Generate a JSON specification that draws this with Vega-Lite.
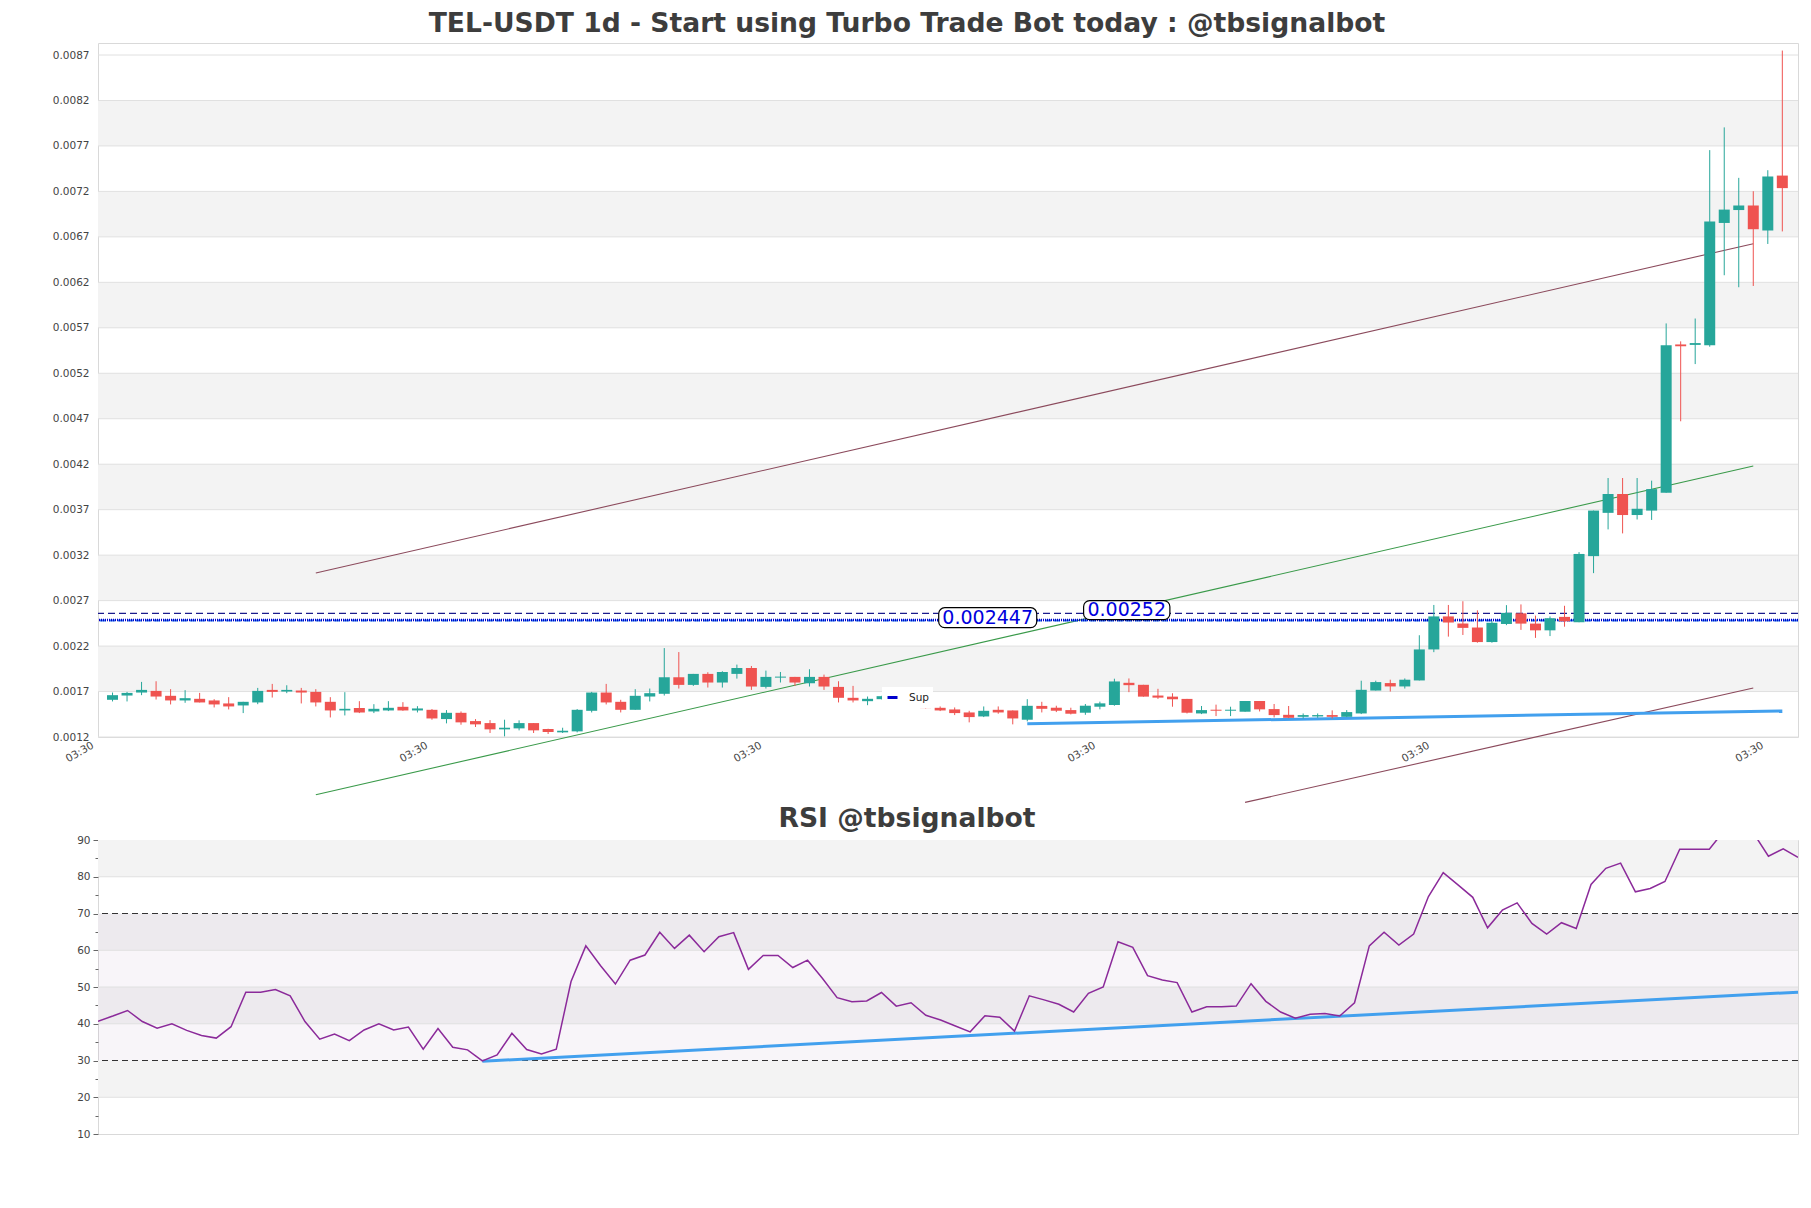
{
"$schema": "https://vega.github.io/schema/vega-lite/v6.json",
"background": "white",
"padding": {"left": 51, "top": 10, "right": 10, "bottom": 10},
"bounds": "flush",
"spacing": 103,
"config": {
  "view": {"stroke": "#d9d9d9", "strokeWidth": 1},
  "axis": {"labelFont": "DejaVu Sans", "labelFontSize": 10.5, "labelColor": "#444444", "domain": false, "grid": false, "title": null, "labelOverlap": false, "labelFlush": false},
  "title": {"font": "DejaVu Sans", "fontWeight": "bold", "color": "#3d3d3d"}
},
"datasets": {
  "candles": [
    {"t":"2024-05-01T03:30","o":0.001569,"h":0.001649,"l":0.001551,"c":0.00162},
    {"t":"2024-05-02T03:30","o":0.001616,"h":0.001656,"l":0.001551,"c":0.001645},
    {"t":"2024-05-03T03:30","o":0.001649,"h":0.001766,"l":0.00162,"c":0.001678},
    {"t":"2024-05-04T03:30","o":0.001667,"h":0.001773,"l":0.001572,"c":0.001605},
    {"t":"2024-05-05T03:30","o":0.001613,"h":0.001686,"l":0.001518,"c":0.001562},
    {"t":"2024-05-06T03:30","o":0.001562,"h":0.001675,"l":0.001536,"c":0.001587},
    {"t":"2024-05-07T03:30","o":0.00158,"h":0.001645,"l":0.00154,"c":0.00154},
    {"t":"2024-05-08T03:30","o":0.001562,"h":0.001576,"l":0.001485,"c":0.001518},
    {"t":"2024-05-09T03:30","o":0.001529,"h":0.001598,"l":0.001463,"c":0.001496},
    {"t":"2024-05-10T03:30","o":0.001507,"h":0.001547,"l":0.001423,"c":0.001547},
    {"t":"2024-05-11T03:30","o":0.00154,"h":0.0017,"l":0.001521,"c":0.001667},
    {"t":"2024-05-12T03:30","o":0.001678,"h":0.001744,"l":0.001594,"c":0.001656},
    {"t":"2024-05-13T03:30","o":0.00166,"h":0.001729,"l":0.001642,"c":0.001678},
    {"t":"2024-05-14T03:30","o":0.001671,"h":0.0017,"l":0.001529,"c":0.001649},
    {"t":"2024-05-15T03:30","o":0.001656,"h":0.001686,"l":0.001496,"c":0.00154},
    {"t":"2024-05-16T03:30","o":0.001547,"h":0.001598,"l":0.001375,"c":0.001452},
    {"t":"2024-05-17T03:30","o":0.001452,"h":0.001653,"l":0.001397,"c":0.00147},
    {"t":"2024-05-18T03:30","o":0.001478,"h":0.001554,"l":0.001423,"c":0.00143},
    {"t":"2024-05-19T03:30","o":0.001441,"h":0.001521,"l":0.001423,"c":0.00147},
    {"t":"2024-05-20T03:30","o":0.001452,"h":0.001554,"l":0.001445,"c":0.001481},
    {"t":"2024-05-21T03:30","o":0.001492,"h":0.001543,"l":0.001448,"c":0.001452},
    {"t":"2024-05-22T03:30","o":0.001452,"h":0.001499,"l":0.00143,"c":0.001474},
    {"t":"2024-05-23T03:30","o":0.001459,"h":0.001467,"l":0.00135,"c":0.001364},
    {"t":"2024-05-24T03:30","o":0.001357,"h":0.001456,"l":0.00131,"c":0.001426},
    {"t":"2024-05-25T03:30","o":0.001426,"h":0.001441,"l":0.001295,"c":0.001321},
    {"t":"2024-05-26T03:30","o":0.001335,"h":0.001357,"l":0.00127,"c":0.001299},
    {"t":"2024-05-27T03:30","o":0.001313,"h":0.001346,"l":0.001204,"c":0.001244},
    {"t":"2024-05-28T03:30","o":0.001244,"h":0.00135,"l":0.001167,"c":0.001262},
    {"t":"2024-05-29T03:30","o":0.001255,"h":0.001343,"l":0.001233,"c":0.001313},
    {"t":"2024-05-30T03:30","o":0.001313,"h":0.001313,"l":0.001204,"c":0.001233},
    {"t":"2024-05-31T03:30","o":0.001248,"h":0.001251,"l":0.001193,"c":0.001215},
    {"t":"2024-06-01T03:30","o":0.001211,"h":0.001262,"l":0.001204,"c":0.001229},
    {"t":"2024-06-02T03:30","o":0.001222,"h":0.001467,"l":0.001211,"c":0.001459},
    {"t":"2024-06-03T03:30","o":0.001448,"h":0.001656,"l":0.00143,"c":0.001649},
    {"t":"2024-06-04T03:30","o":0.001649,"h":0.001744,"l":0.001518,"c":0.00154},
    {"t":"2024-06-05T03:30","o":0.001547,"h":0.001569,"l":0.00143,"c":0.001459},
    {"t":"2024-06-06T03:30","o":0.001459,"h":0.001686,"l":0.001459,"c":0.001613},
    {"t":"2024-06-07T03:30","o":0.001605,"h":0.001693,"l":0.001551,"c":0.001642},
    {"t":"2024-06-08T03:30","o":0.001635,"h":0.002138,"l":0.001616,"c":0.001817},
    {"t":"2024-06-09T03:30","o":0.001817,"h":0.002094,"l":0.001693,"c":0.001733},
    {"t":"2024-06-10T03:30","o":0.001733,"h":0.001854,"l":0.001722,"c":0.001854},
    {"t":"2024-06-11T03:30","o":0.001854,"h":0.001872,"l":0.001704,"c":0.001759},
    {"t":"2024-06-12T03:30","o":0.001759,"h":0.001883,"l":0.001704,"c":0.001875},
    {"t":"2024-06-13T03:30","o":0.001854,"h":0.001956,"l":0.001802,"c":0.001919},
    {"t":"2024-06-14T03:30","o":0.001919,"h":0.001941,"l":0.001678,"c":0.001715},
    {"t":"2024-06-15T03:30","o":0.001711,"h":0.00189,"l":0.001693,"c":0.001821},
    {"t":"2024-06-16T03:30","o":0.001813,"h":0.001875,"l":0.001759,"c":0.001824},
    {"t":"2024-06-17T03:30","o":0.001821,"h":0.001821,"l":0.001722,"c":0.001759},
    {"t":"2024-06-18T03:30","o":0.001751,"h":0.001905,"l":0.001715,"c":0.001821},
    {"t":"2024-06-19T03:30","o":0.001821,"h":0.001846,"l":0.001678,"c":0.001715},
    {"t":"2024-06-20T03:30","o":0.001711,"h":0.001773,"l":0.00154,"c":0.001591},
    {"t":"2024-06-21T03:30","o":0.001591,"h":0.001722,"l":0.00154,"c":0.001562},
    {"t":"2024-06-22T03:30","o":0.001554,"h":0.001605,"l":0.00151,"c":0.00158},
    {"t":"2024-06-23T03:30","o":0.001576,"h":0.001615,"l":0.00157,"c":0.001609},
    {"t":"2024-06-24T03:30","o":0.001609,"h":0.00162,"l":0.001525,"c":0.00154},
    {"t":"2024-06-25T03:30","o":0.00154,"h":0.00158,"l":0.001525,"c":0.001555},
    {"t":"2024-06-26T03:30","o":0.001492,"h":0.001495,"l":0.001475,"c":0.001478},
    {"t":"2024-06-27T03:30","o":0.001481,"h":0.001496,"l":0.001445,"c":0.001452},
    {"t":"2024-06-28T03:30","o":0.001463,"h":0.001485,"l":0.001401,"c":0.001423},
    {"t":"2024-06-29T03:30","o":0.00143,"h":0.001448,"l":0.001321,"c":0.001379},
    {"t":"2024-06-30T03:30","o":0.001386,"h":0.001496,"l":0.001379,"c":0.001448},
    {"t":"2024-07-01T03:30","o":0.001459,"h":0.001496,"l":0.001416,"c":0.00143},
    {"t":"2024-07-02T03:30","o":0.001452,"h":0.001452,"l":0.001299,"c":0.001364},
    {"t":"2024-07-03T03:30","o":0.00135,"h":0.001576,"l":0.001332,"c":0.001503},
    {"t":"2024-07-04T03:30","o":0.001502,"h":0.001547,"l":0.00143,"c":0.00147},
    {"t":"2024-07-05T03:30","o":0.001482,"h":0.001504,"l":0.001434,"c":0.001449},
    {"t":"2024-07-06T03:30","o":0.001456,"h":0.001482,"l":0.001408,"c":0.001416},
    {"t":"2024-07-07T03:30","o":0.001427,"h":0.001523,"l":0.001404,"c":0.001504},
    {"t":"2024-07-08T03:30","o":0.001493,"h":0.001549,"l":0.001464,"c":0.00153},
    {"t":"2024-07-09T03:30","o":0.001512,"h":0.001801,"l":0.001504,"c":0.001771},
    {"t":"2024-07-10T03:30","o":0.001756,"h":0.001804,"l":0.001653,"c":0.00173},
    {"t":"2024-07-11T03:30","o":0.001734,"h":0.001734,"l":0.001604,"c":0.001604},
    {"t":"2024-07-12T03:30","o":0.001616,"h":0.00169,"l":0.001579,"c":0.001593},
    {"t":"2024-07-13T03:30","o":0.001604,"h":0.001641,"l":0.001493,"c":0.001575},
    {"t":"2024-07-14T03:30","o":0.001579,"h":0.001579,"l":0.001419,"c":0.001427},
    {"t":"2024-07-15T03:30","o":0.001419,"h":0.001501,"l":0.001412,"c":0.001456},
    {"t":"2024-07-16T03:30","o":0.00146,"h":0.001516,"l":0.00139,"c":0.001449},
    {"t":"2024-07-17T03:30","o":0.001449,"h":0.001493,"l":0.00139,"c":0.00146},
    {"t":"2024-07-18T03:30","o":0.001438,"h":0.001556,"l":0.001438,"c":0.001556},
    {"t":"2024-07-19T03:30","o":0.001556,"h":0.001556,"l":0.001441,"c":0.001464},
    {"t":"2024-07-20T03:30","o":0.001467,"h":0.001523,"l":0.001375,"c":0.001401},
    {"t":"2024-07-21T03:30","o":0.001404,"h":0.001501,"l":0.001367,"c":0.001371},
    {"t":"2024-07-22T03:30","o":0.001382,"h":0.001419,"l":0.001364,"c":0.001401},
    {"t":"2024-07-23T03:30","o":0.001386,"h":0.001419,"l":0.001371,"c":0.001401},
    {"t":"2024-07-24T03:30","o":0.001401,"h":0.001453,"l":0.001364,"c":0.001382},
    {"t":"2024-07-25T03:30","o":0.001382,"h":0.001456,"l":0.001379,"c":0.001434},
    {"t":"2024-07-26T03:30","o":0.001419,"h":0.001779,"l":0.001412,"c":0.001679},
    {"t":"2024-07-27T03:30","o":0.001671,"h":0.001779,"l":0.001671,"c":0.001764},
    {"t":"2024-07-28T03:30","o":0.001753,"h":0.00179,"l":0.00166,"c":0.001716},
    {"t":"2024-07-29T03:30","o":0.001716,"h":0.001804,"l":0.001693,"c":0.00179},
    {"t":"2024-07-30T03:30","o":0.001782,"h":0.002279,"l":0.001782,"c":0.002123},
    {"t":"2024-07-31T03:30","o":0.002123,"h":0.002612,"l":0.002093,"c":0.002486},
    {"t":"2024-08-01T03:30","o":0.002486,"h":0.002612,"l":0.002264,"c":0.002419},
    {"t":"2024-08-02T03:30","o":0.002408,"h":0.002653,"l":0.002282,"c":0.00236},
    {"t":"2024-08-03T03:30","o":0.002364,"h":0.002553,"l":0.002197,"c":0.002204},
    {"t":"2024-08-04T03:30","o":0.002204,"h":0.002438,"l":0.002197,"c":0.002416},
    {"t":"2024-08-05T03:30","o":0.002403,"h":0.00261,"l":0.00239,"c":0.002525},
    {"t":"2024-08-06T03:30","o":0.00252,"h":0.002618,"l":0.002338,"c":0.002407},
    {"t":"2024-08-07T03:30","o":0.002407,"h":0.002495,"l":0.00225,"c":0.002333},
    {"t":"2024-08-08T03:30","o":0.002333,"h":0.002486,"l":0.00227,"c":0.002466},
    {"t":"2024-08-09T03:30","o":0.002481,"h":0.002603,"l":0.002373,"c":0.002432},
    {"t":"2024-08-10T03:30","o":0.002422,"h":0.003193,"l":0.002422,"c":0.003173},
    {"t":"2024-08-11T03:30","o":0.003149,"h":0.00365,"l":0.002962,"c":0.00365},
    {"t":"2024-08-12T03:30","o":0.003625,"h":0.004008,"l":0.003443,"c":0.003832},
    {"t":"2024-08-13T03:30","o":0.003832,"h":0.004008,"l":0.003399,"c":0.003601},
    {"t":"2024-08-14T03:30","o":0.003601,"h":0.004008,"l":0.003552,"c":0.00367},
    {"t":"2024-08-15T03:30","o":0.00365,"h":0.003979,"l":0.003547,"c":0.003886},
    {"t":"2024-08-16T03:30","o":0.003846,"h":0.005708,"l":0.003846,"c":0.005467},
    {"t":"2024-08-17T03:30","o":0.005477,"h":0.005511,"l":0.004632,"c":0.005457},
    {"t":"2024-08-18T03:30","o":0.005472,"h":0.005762,"l":0.005261,"c":0.005492},
    {"t":"2024-08-19T03:30","o":0.005467,"h":0.007614,"l":0.005452,"c":0.006828},
    {"t":"2024-08-20T03:30","o":0.006813,"h":0.007864,"l":0.006238,"c":0.00696},
    {"t":"2024-08-21T03:30","o":0.006955,"h":0.007309,"l":0.006106,"c":0.007005},
    {"t":"2024-08-22T03:30","o":0.007005,"h":0.007162,"l":0.00612,"c":0.006744},
    {"t":"2024-08-23T03:30","o":0.00673,"h":0.007393,"l":0.006582,"c":0.007324},
    {"t":"2024-08-24T03:30","o":0.007334,"h":0.008709,"l":0.00672,"c":0.007196}
  ],
  "rsi": [
    {"t":"2024-05-01T03:30","r":40.7},{"t":"2024-05-02T03:30","r":42.1},{"t":"2024-05-03T03:30","r":43.6},{"t":"2024-05-04T03:30","r":40.6},
    {"t":"2024-05-05T03:30","r":38.8},{"t":"2024-05-06T03:30","r":40.0},{"t":"2024-05-07T03:30","r":38.2},{"t":"2024-05-08T03:30","r":36.8},
    {"t":"2024-05-09T03:30","r":36.1},{"t":"2024-05-10T03:30","r":39.2},{"t":"2024-05-11T03:30","r":48.6},{"t":"2024-05-12T03:30","r":48.6},
    {"t":"2024-05-13T03:30","r":49.3},{"t":"2024-05-14T03:30","r":47.6},{"t":"2024-05-15T03:30","r":40.6},{"t":"2024-05-16T03:30","r":35.8},
    {"t":"2024-05-17T03:30","r":37.2},{"t":"2024-05-18T03:30","r":35.4},{"t":"2024-05-19T03:30","r":38.3},{"t":"2024-05-20T03:30","r":40.0},
    {"t":"2024-05-21T03:30","r":38.3},{"t":"2024-05-22T03:30","r":39.1},{"t":"2024-05-23T03:30","r":33.1},{"t":"2024-05-24T03:30","r":38.7},
    {"t":"2024-05-25T03:30","r":33.6},{"t":"2024-05-26T03:30","r":32.9},{"t":"2024-05-27T03:30","r":29.9},{"t":"2024-05-28T03:30","r":31.5},
    {"t":"2024-05-29T03:30","r":37.4},{"t":"2024-05-30T03:30","r":33.0},{"t":"2024-05-31T03:30","r":31.8},{"t":"2024-06-01T03:30","r":33.1},
    {"t":"2024-06-02T03:30","r":51.5},{"t":"2024-06-03T03:30","r":61.2},{"t":"2024-06-04T03:30","r":55.8},{"t":"2024-06-05T03:30","r":50.8},
    {"t":"2024-06-06T03:30","r":57.3},{"t":"2024-06-07T03:30","r":58.7},{"t":"2024-06-08T03:30","r":64.9},{"t":"2024-06-09T03:30","r":60.5},
    {"t":"2024-06-10T03:30","r":64.1},{"t":"2024-06-11T03:30","r":59.6},{"t":"2024-06-12T03:30","r":63.7},{"t":"2024-06-13T03:30","r":64.8},
    {"t":"2024-06-14T03:30","r":54.8},{"t":"2024-06-15T03:30","r":58.6},{"t":"2024-06-16T03:30","r":58.6},{"t":"2024-06-17T03:30","r":55.3},
    {"t":"2024-06-18T03:30","r":57.3},{"t":"2024-06-19T03:30","r":52.4},{"t":"2024-06-20T03:30","r":47.1},{"t":"2024-06-21T03:30","r":46.0},
    {"t":"2024-06-22T03:30","r":46.2},{"t":"2024-06-23T03:30","r":48.5},{"t":"2024-06-24T03:30","r":44.8},{"t":"2024-06-25T03:30","r":45.7},
    {"t":"2024-06-26T03:30","r":42.3},{"t":"2024-06-27T03:30","r":41.0},{"t":"2024-06-28T03:30","r":39.4},{"t":"2024-06-29T03:30","r":37.8},
    {"t":"2024-06-30T03:30","r":42.2},{"t":"2024-07-01T03:30","r":41.8},{"t":"2024-07-02T03:30","r":38.0},{"t":"2024-07-03T03:30","r":47.6},
    {"t":"2024-07-04T03:30","r":46.5},{"t":"2024-07-05T03:30","r":45.3},{"t":"2024-07-06T03:30","r":43.2},{"t":"2024-07-07T03:30","r":48.3},
    {"t":"2024-07-08T03:30","r":50.0},{"t":"2024-07-09T03:30","r":62.3},{"t":"2024-07-10T03:30","r":60.8},{"t":"2024-07-11T03:30","r":53.1},
    {"t":"2024-07-12T03:30","r":51.9},{"t":"2024-07-13T03:30","r":51.2},{"t":"2024-07-14T03:30","r":43.2},{"t":"2024-07-15T03:30","r":44.6},
    {"t":"2024-07-16T03:30","r":44.6},{"t":"2024-07-17T03:30","r":44.8},{"t":"2024-07-18T03:30","r":50.9},{"t":"2024-07-19T03:30","r":46.1},
    {"t":"2024-07-20T03:30","r":43.2},{"t":"2024-07-21T03:30","r":41.5},{"t":"2024-07-22T03:30","r":42.6},{"t":"2024-07-23T03:30","r":42.8},
    {"t":"2024-07-24T03:30","r":42.1},{"t":"2024-07-25T03:30","r":45.7},{"t":"2024-07-26T03:30","r":61.2},{"t":"2024-07-27T03:30","r":64.9},
    {"t":"2024-07-28T03:30","r":61.4},{"t":"2024-07-29T03:30","r":64.4},{"t":"2024-07-30T03:30","r":74.6},{"t":"2024-07-31T03:30","r":81.1},
    {"t":"2024-08-01T03:30","r":77.8},{"t":"2024-08-02T03:30","r":74.4},{"t":"2024-08-03T03:30","r":66.1},{"t":"2024-08-04T03:30","r":70.9},
    {"t":"2024-08-05T03:30","r":72.9},{"t":"2024-08-06T03:30","r":67.3},{"t":"2024-08-07T03:30","r":64.4},{"t":"2024-08-08T03:30","r":67.5},
    {"t":"2024-08-09T03:30","r":65.9},{"t":"2024-08-10T03:30","r":77.9},{"t":"2024-08-11T03:30","r":82.3},{"t":"2024-08-12T03:30","r":83.7},
    {"t":"2024-08-13T03:30","r":75.9},{"t":"2024-08-14T03:30","r":76.8},{"t":"2024-08-15T03:30","r":78.7},{"t":"2024-08-16T03:30","r":87.5},
    {"t":"2024-08-17T03:30","r":87.5},{"t":"2024-08-18T03:30","r":87.5},{"t":"2024-08-19T03:30","r":92.5},{"t":"2024-08-20T03:30","r":93.5},
    {"t":"2024-08-21T03:30","r":91.8},{"t":"2024-08-22T03:30","r":85.6},{"t":"2024-08-23T03:30","r":87.6},{"t":"2024-08-24T03:30","r":85.3}
  ],
  "trend": [
    {"n":"a","t":"2024-05-15T03:30","v":0.002964},{"n":"a","t":"2024-08-22T03:30","v":0.006585},
    {"n":"b","t":"2024-05-15T03:30","v":0.000525},{"n":"b","t":"2024-08-22T03:30","v":0.00414},
    {"n":"c","t":"2024-07-18T03:30","v":0.000441},{"n":"c","t":"2024-08-22T03:30","v":0.001699}
  ],
  "support": [{"t":"2024-07-03T03:30","v":0.001306},{"t":"2024-08-24T03:30","v":0.001446}],
  "rsitrend": [{"t":"2024-05-27T03:30","r":29.8},{"t":"2024-08-24T03:30","r":48.6}],
  "bands": [{"a":0.00166,"b":0.00216},{"a":0.00266,"b":0.00316},{"a":0.00366,"b":0.00416},{"a":0.00466,"b":0.00516},{"a":0.00566,"b":0.00616},{"a":0.00666,"b":0.00716},{"a":0.00766,"b":0.00816}],
  "grid": [{"v":0.00116},{"v":0.00166},{"v":0.00216},{"v":0.00266},{"v":0.00316},{"v":0.00366},{"v":0.00416},{"v":0.00466},{"v":0.00516},{"v":0.00566},{"v":0.00616},{"v":0.00666},{"v":0.00716},{"v":0.00766},{"v":0.00816},{"v":0.00866}],
  "labels": [
    {"x1":"2024-06-27T01:06","x2":"2024-07-03T19:06","y1":0.002362,"y2":0.002582,"tx":"2024-06-30T10:00","ty":0.002472,"text":"0.002447"},
    {"x1":"2024-07-07T00:36","x2":"2024-07-12T23:12","y1":0.00245,"y2":0.002659,"tx":"2024-07-09T23:54","ty":0.002555,"text":"0.00252"}
  ]
},
"vconcat": [
  {
    "width": 1700, "height": 694,
    "title": {"text": "TEL-USDT 1d - Start using Turbo Trade Bot today : @tbsignalbot", "fontSize": 26.6, "anchor": "middle", "dx": -41, "offset": -16, "baseline": "alphabetic", "frame": "group"},
    "layer": [
      {"data": {"name": "bands"}, "mark": {"type": "rect", "color": "#f3f3f3"},
       "encoding": {"y": {"field": "a", "type": "quantitative", "title": null, "scale": {"domain": [0.00116, 0.008792], "nice": false, "zero": false, "padding": 0},
          "axis": {"values": [0.00116,0.00166,0.00216,0.00266,0.00316,0.00366,0.00416,0.00466,0.00516,0.00566,0.00616,0.00666,0.00716,0.00766,0.00816,0.00866], "format": ".4f", "ticks": false, "labelPadding": 9, "labelOverlap": false, "title": null}},
          "y2": {"field": "b"}}},
      {"data": {"name": "grid"}, "mark": {"type": "rule", "color": "#e0e0e0", "strokeWidth": 1},
       "encoding": {"y": {"field": "v", "type": "quantitative", "title": null}}},
      {"data": {"name": "trend"}, "mark": {"type": "line", "strokeWidth": 1.1},
       "encoding": {
         "x": {"field": "t", "type": "temporal", "title": null},
         "y": {"field": "v", "type": "quantitative", "title": null},
         "detail": {"field": "n"},
         "color": {"field": "n", "type": "nominal", "scale": {"domain": ["a","b","c"], "range": ["#8b4a5c","#3a9a4a","#8b4a5c"]}, "legend": null}}},
      {"data": {"name": "support"}, "mark": {"type": "line", "color": "#42a0ee", "strokeWidth": 3},
       "encoding": {"x": {"field": "t", "type": "temporal", "title": null}, "y": {"field": "v", "type": "quantitative", "title": null}}},
      {"data": {"values": [{"v": 0.00252}]}, "mark": {"type": "rule", "color": "#1a1a8c", "strokeDash": [7, 4], "strokeWidth": 1.3},
       "encoding": {"y": {"field": "v", "type": "quantitative", "title": null}}},
      {"data": {"values": [{"v": 0.002441}]}, "mark": {"type": "rule", "color": "#2f7bea", "strokeDash": [6, 3], "strokeWidth": 2},
       "encoding": {"y": {"field": "v", "type": "quantitative", "title": null}}},
      {"data": {"values": [{"v": 0.002447}]}, "mark": {"type": "rule", "strokeDash": [1, 1], "strokeWidth": 2.5},
       "encoding": {"y": {"field": "v", "type": "quantitative", "title": null},
         "stroke": {"datum": "Sup", "type": "nominal", "scale": {"range": ["#0000cc"]},
           "legend": {"orient": "none", "legendX": 784, "legendY": 644, "title": null, "fillColor": "white", "padding": 4, "symbolType": "stroke", "symbolSize": 100, "symbolStrokeWidth": 3, "symbolDash": [20, 0], "labelFontSize": 10.5, "labelFont": "DejaVu Sans", "labelColor": "#222222", "labelOffset": 10}}}},
      {"data": {"name": "candles"}, "mark": {"type": "rule", "strokeWidth": 1},
       "encoding": {
         "x": {"field": "t", "type": "temporal", "title": null,
           "scale": {"nice": false, "padding": 0, "domain": [{"year": 2024, "month": 4, "date": 30, "hours": 3, "minutes": 30}, {"year": 2024, "month": 8, "date": 25, "hours": 5, "minutes": 25}]},
           "axis": {"values": [{"year": 2024, "month": 4, "date": 30, "hours": 3, "minutes": 30}, {"year": 2024, "month": 5, "date": 23, "hours": 3, "minutes": 30}, {"year": 2024, "month": 6, "date": 15, "hours": 3, "minutes": 30}, {"year": 2024, "month": 7, "date": 8, "hours": 3, "minutes": 30}, {"year": 2024, "month": 7, "date": 31, "hours": 3, "minutes": 30}, {"year": 2024, "month": 8, "date": 23, "hours": 3, "minutes": 30}],
             "format": "%H:%M", "labelAngle": -30, "labelAlign": "right", "labelBaseline": "top", "labelFlush": false, "labelOffset": -8, "ticks": false, "labelPadding": 3, "title": null}},
         "y": {"field": "l", "type": "quantitative", "title": null},
         "y2": {"field": "h"},
         "color": {"condition": {"test": "datum.c >= datum.o", "value": "#26a69a"}, "value": "#ef5350"}}},
      {"data": {"name": "candles"}, "mark": {"type": "bar", "size": 11},
       "encoding": {
         "x": {"field": "t", "type": "temporal", "title": null},
         "y": {"field": "o", "type": "quantitative", "title": null},
         "y2": {"field": "c"},
         "color": {"condition": {"test": "datum.c >= datum.o", "value": "#26a69a"}, "value": "#ef5350"}}},
      {"data": {"name": "labels"}, "mark": {"type": "rect", "fill": "white", "stroke": "black", "strokeWidth": 1.2, "cornerRadius": 6},
       "encoding": {"x": {"field": "x1", "type": "temporal", "title": null}, "x2": {"field": "x2"}, "y": {"field": "y1", "type": "quantitative", "title": null}, "y2": {"field": "y2"}}},
      {"data": {"name": "labels"}, "mark": {"type": "text", "color": "#0000dd", "fontSize": 19, "font": "DejaVu Sans", "align": "center", "baseline": "middle"},
       "encoding": {"x": {"field": "tx", "type": "temporal", "title": null}, "y": {"field": "ty", "type": "quantitative", "title": null}, "text": {"field": "text"}}}
    ]
  },
  {
    "width": 1700, "height": 294,
    "title": {"text": "RSI @tbsignalbot", "fontSize": 26.6, "anchor": "middle", "dx": -41, "offset": -19, "baseline": "alphabetic", "frame": "group"},
    "resolve": {"axis": {"y": "independent"}},
    "layer": [
      {"data": {"values": [{"a": 80, "b": 90}, {"a": 60, "b": 70}, {"a": 40, "b": 50}, {"a": 20, "b": 30}]}, "mark": {"type": "rect", "color": "#f3f3f3"},
       "encoding": {"y": {"field": "a", "type": "quantitative", "title": null, "scale": {"domain": [10, 90], "nice": false, "zero": false},
          "axis": {"orient": "left", "values": [10,20,30,40,50,60,70,80,90], "labelOverlap": false, "ticks": true, "tickSize": 5, "tickColor": "#666666", "labelPadding": 3, "title": null}},
          "y2": {"field": "b"}}},
      {"data": {"values": [{"a": 30, "b": 70}]}, "mark": {"type": "rect", "color": "#b8a0c0", "opacity": 0.1},
       "encoding": {"y": {"field": "a", "type": "quantitative", "title": null,
          "axis": {"orient": "left", "values": [15,25,35,45,55,65,75,85], "labels": false, "ticks": true, "tickSize": 3, "tickColor": "#666666", "grid": false, "domain": false, "title": null}},
          "y2": {"field": "b"}}},
      {"data": {"values": [{"v": 20}, {"v": 40}, {"v": 50}, {"v": 60}, {"v": 80}]}, "mark": {"type": "rule", "color": "#e0e0e0", "strokeWidth": 1},
       "encoding": {"y": {"field": "v", "type": "quantitative", "title": null, "axis": null}}},
      {"data": {"values": [{"v": 30}, {"v": 70}]}, "mark": {"type": "rule", "color": "#333333", "strokeDash": [6, 4], "strokeWidth": 1.2},
       "encoding": {"y": {"field": "v", "type": "quantitative", "title": null, "axis": null}}},
      {"data": {"name": "rsitrend"}, "mark": {"type": "line", "color": "#42a0ee", "strokeWidth": 3},
       "encoding": {"x": {"field": "t", "type": "temporal", "title": null, "axis": null}, "y": {"field": "r", "type": "quantitative", "title": null, "axis": null}}},
      {"data": {"name": "rsi"}, "mark": {"type": "line", "color": "#8b2a9a", "strokeWidth": 1.5, "clip": true},
       "encoding": {
         "x": {"field": "t", "type": "temporal", "title": null, "axis": null,
           "scale": {"nice": false, "domain": [{"year": 2024, "month": 5, "date": 1, "hours": 3, "minutes": 30}, {"year": 2024, "month": 8, "date": 24, "hours": 3, "minutes": 30}]}},
         "y": {"field": "r", "type": "quantitative", "title": null, "axis": null}}}
    ]
  }
]
}
